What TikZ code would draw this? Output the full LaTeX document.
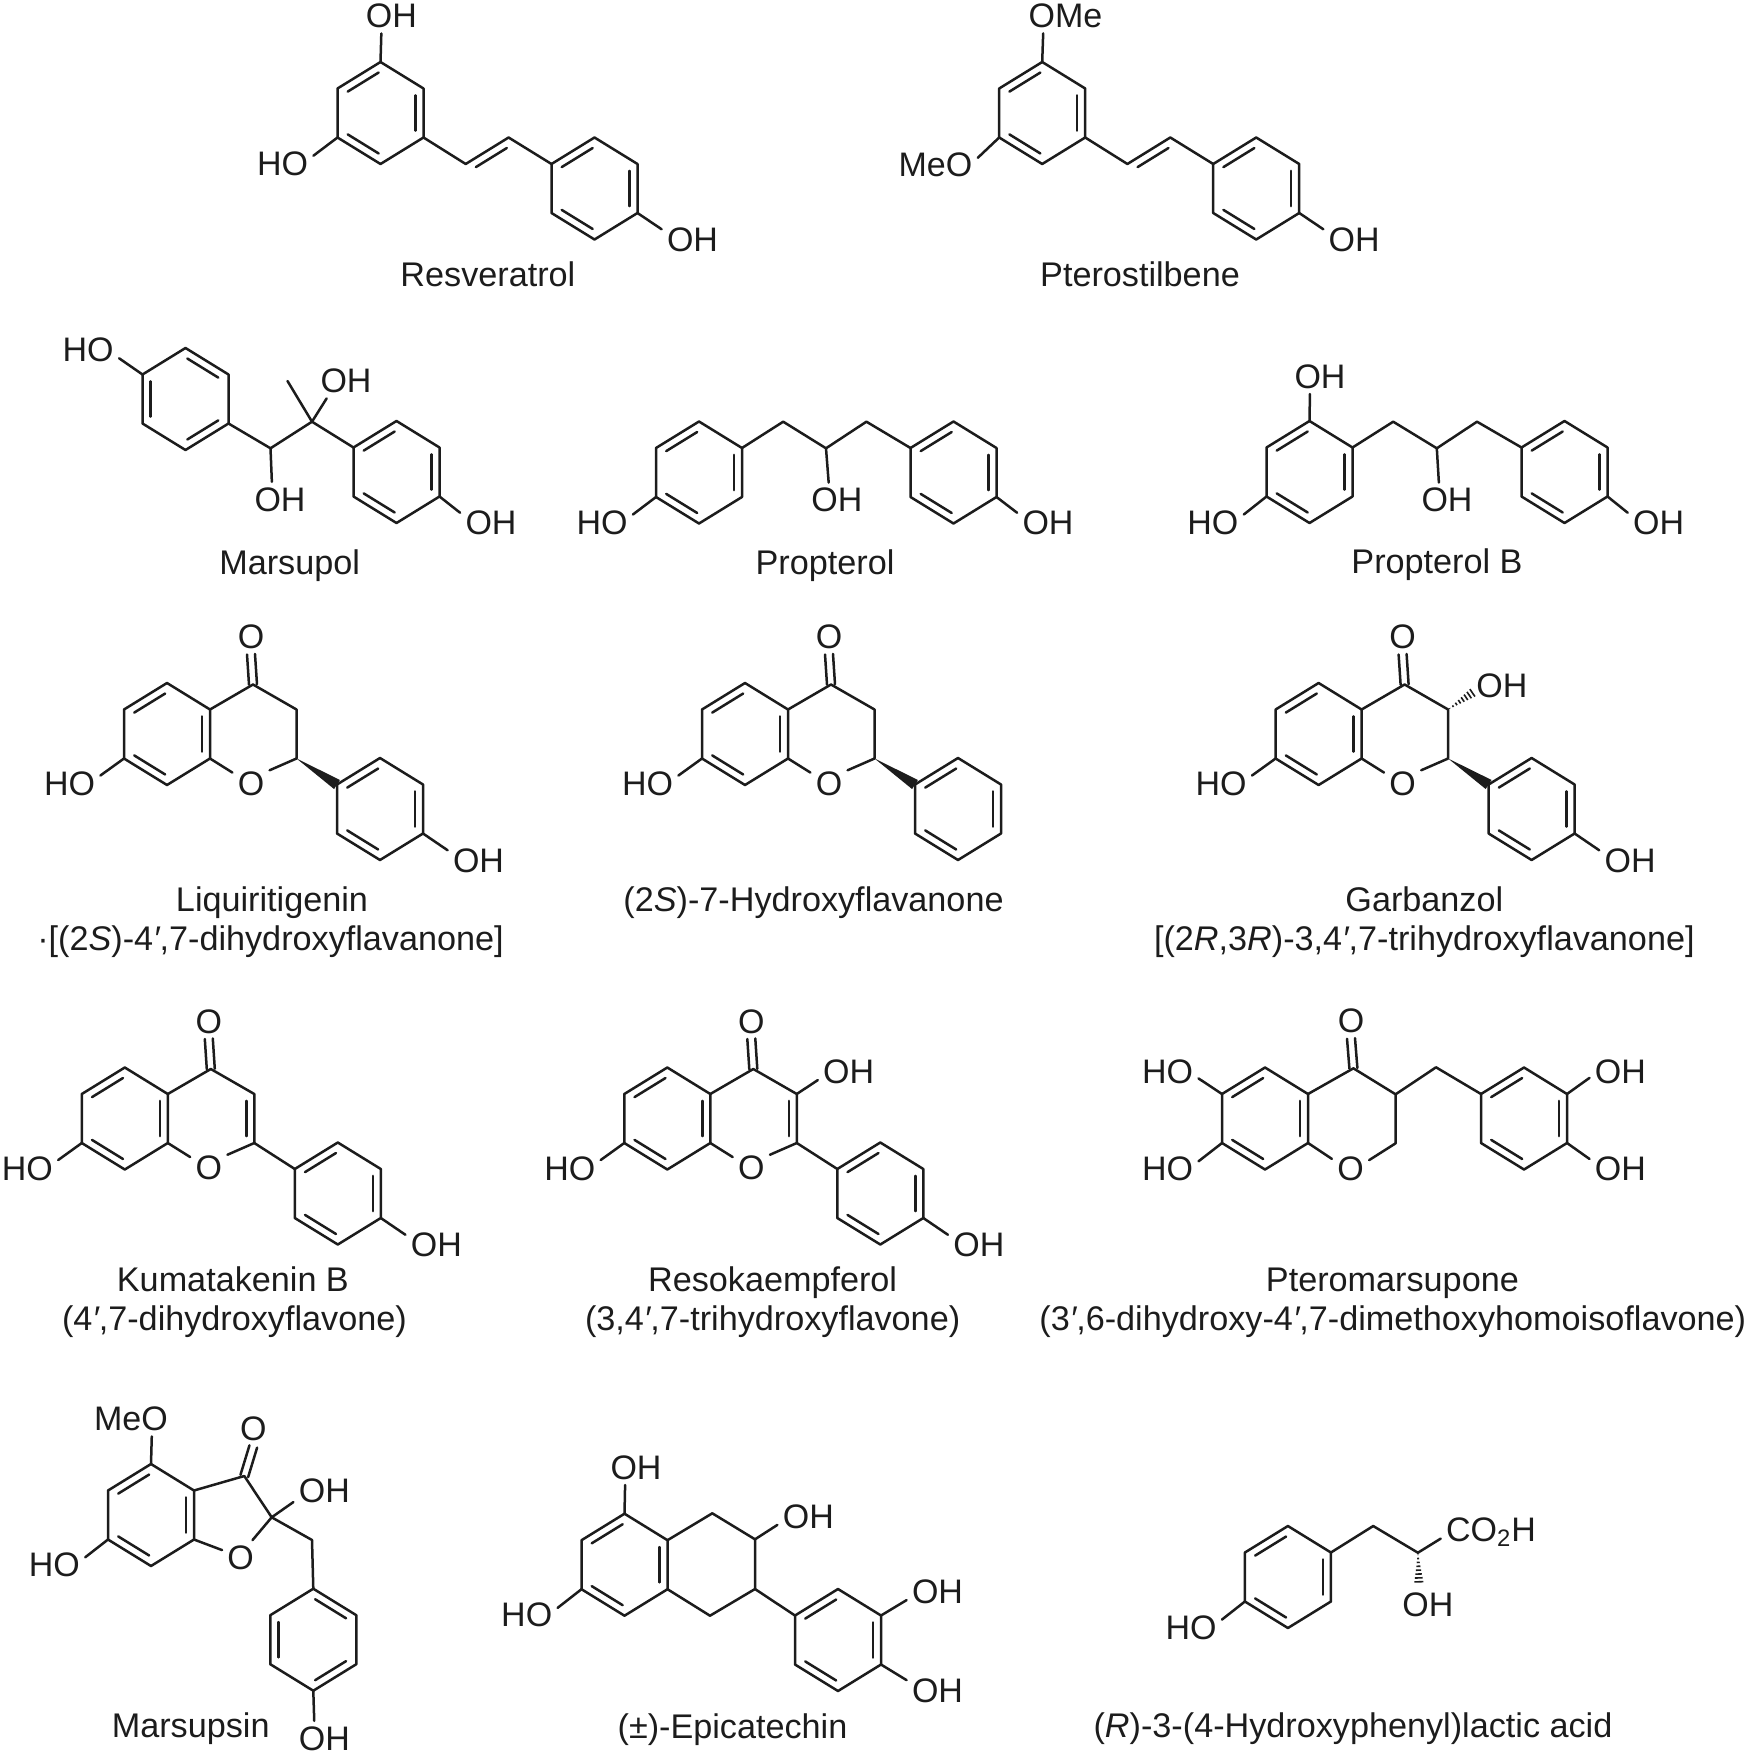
\documentclass[tikz,border=0pt]{standalone}
\usepackage{fontspec}
\setmainfont{Liberation Sans}
\usetikzlibrary{calc,math}
\definecolor{ink}{HTML}{1C1C1C}
\tikzset{
  bond/.style={line width=1.25pt, line join=round, line cap=round, color=ink},
  atom/.style={anchor=base, inner sep=2.5pt, text=ink, font=\fontsize{17}{20}\selectfont},
  capt/.style={anchor=base, inner sep=0pt, text=ink, font=\fontsize{17.1}{20}\selectfont},
}
% second line of a double bond
\newcommand{\innerline}[3]{\draw[bond] ($(#1)!0.14!(#2)!#3!90:(#2)$) -- ($(#2)!0.14!(#1)!#3!-90:(#1)$);}
% hexagon: name, centre x, centre y, edges that carry a second line
\newcommand{\hexring}[4]{
  \tikzmath{\hx = 43; \hy = 51; \hs = 24.5;}
  \coordinate (#11) at (#2,#3-\hy);
  \coordinate (#12) at (#2+\hx,#3-\hs);
  \coordinate (#13) at (#2+\hx,#3+\hs);
  \coordinate (#14) at (#2,#3+\hy);
  \coordinate (#15) at (#2-\hx,#3+\hs);
  \coordinate (#16) at (#2-\hx,#3-\hs);
  \draw[bond] (#11) -- (#12) -- (#13) -- (#14) -- (#15) -- (#16) -- cycle;
  \foreach \s in {#4}{
    \pgfmathtruncatemacro{\nx}{mod(\s,6)+1}
    \innerline{#1\s}{#1\nx}{-4pt}
  }
}
\newcommand{\carbonyl}[2]{
  \draw[bond] ($(#1)!2pt!90:(#2)$) -- ($(#2)!2pt!-90:(#1)$);
  \draw[bond] ($(#1)!2pt!-90:(#2)$) -- ($(#2)!2pt!90:(#1)$);
}
\newcommand{\wedgebond}[2]{\fill[ink] (#1) -- ($(#2)!2.7pt!90:(#1)$) -- ($(#2)!2.7pt!-90:(#1)$) -- cycle;}
\newcommand{\hashbond}[2]{
  \foreach \hp in {0.06,0.18,0.3,0.42,0.54,0.66,0.78,0.9}{
    \draw[line width=0.8pt, color=ink] ($(#1)!\hp!(#2)!\hp*2.5pt!90:(#2)$) -- ($(#1)!\hp!(#2)!\hp*2.5pt!-90:(#2)$);
  }
}
% the two-ring core with its phenyl, ring A centre at the origin
\newcommand{\flavcore}[1]{
  \hexring{#1a}{0}{0}{6,2,4}
  \hexring{#1b}{213}{75}{6,2,4}
  \coordinate (#1c4) at (86,-49.5);
  \coordinate (#1c3) at (129.5,-24.5);
  \coordinate (#1c2) at (129.5,24.5);
  \node[atom] (#1co) at (84,-85.5) {O};
  \node[atom] (#1ox) at (84,61) {O};
  \draw[bond] (#1a2) -- (#1c4) -- (#1c3) -- (#1c2) -- (#1ox.35);
  \draw[bond] (#1a3) -- (#1ox.150);
  \carbonyl{#1c4}{#1co.south}
}
\newcommand{\flavends}[1]{
  \node[atom] (#1ho) at (-97.5,61.5) {HO};
  \node[atom] (#1oh) at (311.5,138) {OH};
  \draw[bond] (#1a5) -- (#1ho.15);
  \draw[bond] (#1b3) -- (#1oh.162);
}

\begin{document}
\begin{tikzpicture}[x=0.5pt,y=-0.5pt]
  \useasboundingbox (0,0) rectangle (1749,1755);

  % stilbenes
  \begin{scope}
    \hexring{rva}{380.5}{113}{6,2,4}
    \hexring{rvb}{594.5}{188.5}{6,2,4}
    \coordinate (rvc) at (465.7,164);
    \coordinate (rvd) at (508.6,137.5);
    \node[atom] (rvoa) at (391.4,27.7) {OH};
    \node[atom] (rvob) at (282.5,175.7) {HO};
    \node[atom] (rvoc) at (692.5,251) {OH};
    \draw[bond] (rva3) -- (rvc) -- (rvd) -- (rvb6);
    \innerline{rvc}{rvd}{-4pt}
    \draw[bond] (rva1) -- (rvoa.240);
    \draw[bond] (rva5) -- (rvob.15);
    \draw[bond] (rvb3) -- (rvoc.162);
    \node[capt] (rvname) at (487.9,286.7) {Resveratrol};
  \end{scope}
  \begin{scope}[shift={(661.7,0)}]
    \hexring{pta}{380.5}{113}{6,2,4}
    \hexring{ptb}{594.5}{188.5}{6,2,4}
    \coordinate (ptc) at (465.7,164);
    \coordinate (ptd) at (508.6,137.5);
    \node[atom] (ptoa) at (403.8,27.7) {OMe};
    \node[atom] (ptob) at (273.8,177) {MeO};
    \node[atom] (ptoc) at (692.5,251) {OH};
    \draw[bond] (pta3) -- (ptc) -- (ptd) -- (ptb6);
    \innerline{ptc}{ptd}{-4pt}
    \draw[bond] (pta1) -- (ptoa.218);
    \draw[bond] (pta5) -- (ptob.10);
    \draw[bond] (ptb3) -- (ptoc.162);
    \node[capt] (ptname) at (478.3,286.7) {Pterostilbene};
  \end{scope}

  % Marsupol
  \hexring{maa}{185.5}{399}{1,3,5}
  \hexring{mab}{396.5}{472}{6,2,4}
  \coordinate (mac) at (270.5,448.3);
  \coordinate (mad) at (312,421.7);
  \coordinate (mae) at (287.5,381);
  \node[atom] (maoa) at (88.2,361.7) {HO};
  \node[atom] (maob) at (280,511) {OH};
  \node[atom] (maoc) at (346,392.7) {OH};
  \node[atom] (maod) at (491,534.5) {OH};
  \draw[bond] (maa3) -- (mac) -- (mad) -- (mab6);
  \draw[bond] (mad) -- (mae);
  \draw[bond] (maa6) -- (maoa.345);
  \draw[bond] (mac) -- (maob.115);
  \draw[bond] (mad) -- (maoc.222);
  \draw[bond] (mab3) -- (maod.162);
  \node[capt] (maname) at (289.6,574) {Marsupol};

  % Propterol
  \hexring{ppa}{699}{472.5}{6,2,4}
  \hexring{ppb}{953.5}{472.5}{6,2,4}
  \coordinate (ppc) at (783.2,421.7);
  \coordinate (ppd) at (826,448.3);
  \coordinate (ppe) at (866.4,421.7);
  \node[atom] (ppoa) at (602,534.5) {HO};
  \node[atom] (ppob) at (836.8,511.7) {OH};
  \node[atom] (ppoc) at (1048,534.5) {OH};
  \draw[bond] (ppa2) -- (ppc) -- (ppd) -- (ppe) -- (ppb6);
  \draw[bond] (ppa5) -- (ppoa.15);
  \draw[bond] (ppd) -- (ppob.115);
  \draw[bond] (ppb3) -- (ppoc.162);
  \node[capt] (ppname) at (825,574) {Propterol};

  % Propterol B
  \hexring{pba}{1309.5}{472}{6,2,4}
  \hexring{pbb}{1564.5}{472}{6,2,4}
  \coordinate (pbc) at (1393.2,421.7);
  \coordinate (pbd) at (1436.8,448.3);
  \coordinate (pbe) at (1477,421.7);
  \node[atom] (pboa) at (1320,388.3) {OH};
  \node[atom] (pbob) at (1212.9,534.5) {HO};
  \node[atom] (pboc) at (1447,511.7) {OH};
  \node[atom] (pbod) at (1658.6,534.5) {OH};
  \draw[bond] (pba2) -- (pbc) -- (pbd) -- (pbe) -- (pbb6);
  \draw[bond] (pba1) -- (pboa.240);
  \draw[bond] (pba5) -- (pbob.15);
  \draw[bond] (pbd) -- (pboc.115);
  \draw[bond] (pbb3) -- (pbod.162);
  \node[capt] (pbname) at (1437,573.5) {Propterol B};

  % flavanones
  \begin{scope}[shift={(167,734)}]
    \flavcore{lq}
    \flavends{lq}
    \wedgebond{lqc2}{lqb6}
  \end{scope}
  \node[capt] (lqname) at (272,911.7) {Liquiritigenin};
  \node[capt] (lqnamb) at (270.5,950) {·[(2\textit{S})-4\textit{′},7-dihydroxyflavanone]};

  \begin{scope}[shift={(745,734)}]
    \flavcore{hf}
    \node[atom] (hfho) at (-97.5,61.5) {HO};
    \draw[bond] (hfa5) -- (hfho.15);
    \wedgebond{hfc2}{hfb6}
  \end{scope}
  \node[capt] (hfname) at (813.5,911.7) {(2\textit{S})-7-Hydroxyflavanone};

  \begin{scope}[shift={(1318.6,734)}]
    \flavcore{gb}
    \flavends{gb}
    \wedgebond{gbc2}{gbb6}
    \coordinate (gbe) at (156.5,-43);
    \node[atom] (gboh) at (183.2,-36.7) {OH};
    \hashbond{gbc3}{gbe}
  \end{scope}
  \node[capt] (gbname) at (1424.3,911.7) {Garbanzol};
  \node[capt] (gbnamb) at (1424.3,950) {[(2\textit{R},3\textit{R})-3,4\textit{′},7-trihydroxyflavanone]};

  % flavones
  \begin{scope}[shift={(124.8,1118.5)}]
    \flavcore{km}
    \flavends{km}
    \innerline{kmc3}{kmc2}{-4pt}
    \draw[bond] (kmc2) -- (kmb6);
  \end{scope}
  \node[capt] (kmname) at (232.9,1291.7) {Kumatakenin B};
  \node[capt] (kmnamb) at (234.4,1330.7) {(4\textit{′},7-dihydroxyflavone)};

  \begin{scope}[shift={(667.3,1118.5)}]
    \flavcore{rs}
    \flavends{rs}
    \innerline{rsc3}{rsc2}{-4pt}
    \draw[bond] (rsc2) -- (rsb6);
    \node[atom] (rsoh) at (181.4,-35) {OH};
    \draw[bond] (rsc3) -- (rsoh.195);
  \end{scope}
  \node[capt] (rsname) at (772.6,1291.7) {Resokaempferol};
  \node[capt] (rsnamb) at (772.6,1330.7) {(3,4\textit{′},7-trihydroxyflavone)};

  % Pteromarsupone
  \hexring{pma}{1265}{1118.5}{6,2,4}
  \hexring{pmb}{1524}{1118.5}{6,2,4}
  \coordinate (pmc) at (1353.4,1068.3);
  \coordinate (pmd) at (1395.6,1094.3);
  \coordinate (pme) at (1395.6,1143.3);
  \coordinate (pmf) at (1436,1067.3);
  \node[atom] (pmoa) at (1351,1032.7) {O};
  \node[atom] (pmob) at (1350.5,1180.5) {O};
  \node[atom] (pmoc) at (1167.6,1083) {HO};
  \node[atom] (pmod) at (1167.6,1180.7) {HO};
  \node[atom] (pmoe) at (1620.4,1083) {OH};
  \node[atom] (pmog) at (1620.4,1180.7) {OH};
  \draw[bond] (pma2) -- (pmc) -- (pmd) -- (pme) -- (pmob.25);
  \draw[bond] (pma3) -- (pmob.152);
  \draw[bond] (pmd) -- (pmf) -- (pmb6);
  \carbonyl{pmc}{pmoa.south}
  \draw[bond] (pma6) -- (pmoc.347);
  \draw[bond] (pma5) -- (pmod.14);
  \draw[bond] (pmb2) -- (pmoe.192);
  \draw[bond] (pmb3) -- (pmog.162);
  \node[capt] (pmname) at (1392.4,1291.7) {Pteromarsupone};
  \node[capt] (pmnamb) at (1392.8,1330.7) {(3\textit{′},6-dihydroxy-4\textit{′},7-dimethoxyhomoisoflavone)};

  % Marsupsin
  \hexring{msa}{151}{1515}{6,2,4}
  \hexring{msb}{313.3}{1639.7}{1,3,5}
  \coordinate (msc) at (244.3,1476);
  \coordinate (msd) at (271.7,1517.3);
  \coordinate (mse) at (312,1540);
  \node[atom] (msoa) at (131,1430.7) {MeO};
  \node[atom] (msob) at (253.3,1440.7) {O};
  \node[atom] (msoc) at (324.3,1502.5) {OH};
  \node[atom] (msod) at (240.7,1569.3) {O};
  \node[atom] (msog) at (54.3,1576.7) {HO};
  \node[atom] (msoh) at (324.3,1750) {OH};
  \draw[bond] (msa2) -- (msc) -- (msd) -- (msod.56);
  \draw[bond] (msa3) -- (msod.158);
  \draw[bond] (msd) -- (mse) -- (msb1);
  \carbonyl{msc}{msob.south}
  \draw[bond] (msd) -- (msoc.200);
  \draw[bond] (msa1) -- (msoa.320);
  \draw[bond] (msa5) -- (msog.14);
  \draw[bond] (msb4) -- (msoh.120);
  \node[capt] (msname) at (190.7,1737.3) {Marsupsin};

  % Epicatechin
  \hexring{eca}{624.5}{1564.7}{6,2,4}
  \hexring{ecb}{838}{1640}{6,2,4}
  \coordinate (ecc) at (712.3,1513.3);
  \coordinate (ecd) at (755,1539.3);
  \coordinate (ece) at (755,1589);
  \coordinate (ecf) at (710,1615.7);
  \node[atom] (ecoa) at (636,1479.3) {OH};
  \node[atom] (ecob) at (526.7,1626.7) {HO};
  \node[atom] (ecoc) at (808.3,1528.3) {OH};
  \node[atom] (ecod) at (937.5,1603.5) {OH};
  \node[atom] (ecog) at (937.5,1702.5) {OH};
  \draw[bond] (eca2) -- (ecc) -- (ecd) -- (ece) -- (ecf) -- (eca3);
  \draw[bond] (ece) -- (ecb6);
  \draw[bond] (eca1) -- (ecoa.238);
  \draw[bond] (eca5) -- (ecob.13);
  \draw[bond] (ecd) -- (ecoc.195);
  \draw[bond] (ecb2) -- (ecod.195);
  \draw[bond] (ecb3) -- (ecog.161);
  \node[capt] (ecname) at (732.5,1738.3) {(±)-Epicatechin};

  % lactic acid
  \hexring{laa}{1287.9}{1577}{6,2,4}
  \coordinate (lab) at (1373.2,1526);
  \coordinate (lac) at (1417.9,1552.7);
  \coordinate (lae) at (1419,1585);
  \node[atom] (laoa) at (1191,1639) {HO};
  \node[atom] (laob) at (1491,1541.7) {CO\textsubscript{2}H};
  \node[atom] (laoc) at (1427.9,1616) {OH};
  \draw[bond] (laa2) -- (lab) -- (lac) -- (laob.187);
  \draw[bond] (laa5) -- (laoa.14);
  \hashbond{lac}{lae}
  \node[capt] (laname) at (1353,1737.3) {(\textit{R})-3-(4-Hydroxyphenyl)lactic acid};
\end{tikzpicture}
\end{document}
